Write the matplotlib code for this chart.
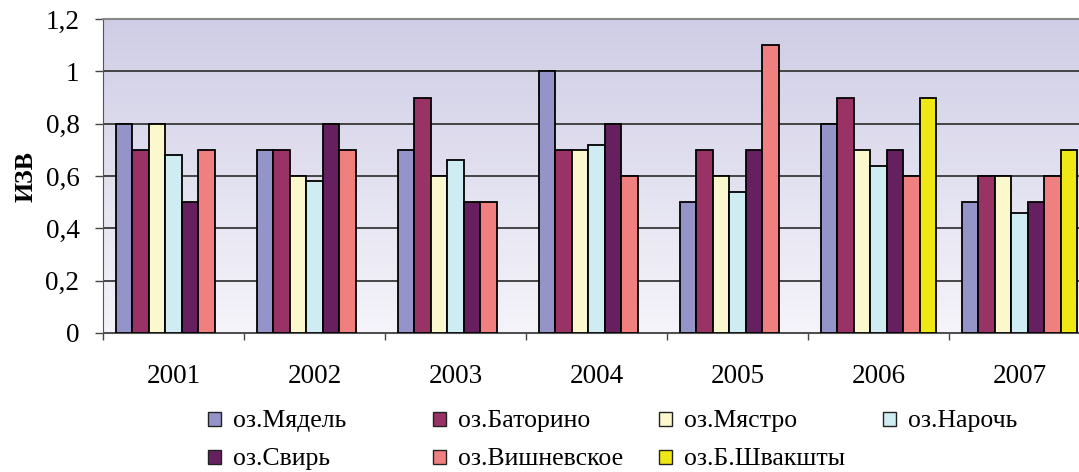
import numpy as np
import matplotlib
matplotlib.use("Agg")
import matplotlib.pyplot as plt
from matplotlib.patches import Rectangle
from matplotlib.ticker import FuncFormatter

plt.rcParams["font.family"] = ["Liberation Serif", "DejaVu Serif"]

years = ["2001", "2002", "2003", "2004", "2005", "2006", "2007"]
lakes = ["оз.Мядель", "оз.Баторино", "оз.Мястро", "оз.Нарочь",
         "оз.Свирь", "оз.Вишневское", "оз.Б.Швакшты"]
myadel = [0.8, 0.7, 0.7, 1.0, 0.5, 0.8, 0.5]
batorino = [0.7, 0.7, 0.9, 0.7, 0.7, 0.9, 0.6]
myastro = [0.8, 0.6, 0.6, 0.7, 0.6, 0.7, 0.6]
naroch = [0.68, 0.58, 0.66, 0.72, 0.54, 0.64, 0.46]
svir = [0.5, 0.8, 0.5, 0.8, 0.7, 0.7, 0.5]
vishnevskoe = [0.7, 0.7, 0.5, 0.6, 1.1, 0.6, 0.6]
shvakshty = [np.nan, np.nan, np.nan, np.nan, np.nan, 0.9, 0.7]
series = [myadel, batorino, myastro, naroch, svir, vishnevskoe, shvakshty]
colors = ["#9494C8", "#993366", "#FAF8CC", "#CFECF2", "#662060", "#F08080", "#F0E814"]

W, H = 1079, 472
fig = plt.figure(figsize=(W / 100, H / 100), dpi=100)
# plot area runs past the right edge of the picture, like in the original
ax = fig.add_axes([103 / W, (H - 333) / H, 987 / W, 314 / H])

# lavender gradient background
grad = np.linspace(0, 1, 256).reshape(-1, 1)
top = np.array([207, 205, 229]) / 255
bot = np.array([245, 244, 250]) / 255
img = top + (bot - top) * grad[:, :, None] * np.ones((1, 1, 3))
ax.imshow(img, extent=[0, 1, 0, 1], transform=ax.transAxes, aspect="auto", zorder=0)

x = np.arange(len(years))
bw = 16.5 / 141
n = len(series)
for i, (vals, c) in enumerate(zip(series, colors)):
    offs = (i - (n - 1) / 2) * bw
    ax.bar(x + offs, vals, width=bw, color=c, edgecolor="black", linewidth=1.3, zorder=3)

ax.set_xlim(-0.5, len(years) - 0.5)
ax.set_ylim(0, 1.2)
ax.set_yticks(np.arange(0, 1.21, 0.2))
ax.yaxis.set_major_formatter(FuncFormatter(lambda v, p: f"{v:g}".replace(".", ",")))
ax.yaxis.grid(True, color="#2a2a2a", linewidth=1.2, zorder=1)
ax.set_axisbelow(True)

ax.set_xticks(x)
ax.set_xticklabels(years)
ax.set_xticks(np.arange(-0.5, len(years)), minor=True)
ax.tick_params(axis="x", which="major", length=0, pad=22, labelsize=19.5)
ax.tick_params(axis="x", which="minor", length=5, width=1, color="#444444", direction="out")
ax.tick_params(axis="y", length=6, width=1, color="#444444", pad=11, labelsize=19.5)

ax.spines["right"].set_visible(False)
ax.spines["top"].set_color("#888888")
ax.spines["left"].set_color("#555555")
ax.spines["bottom"].set_color("#555555")
ax.spines["top"].set_linewidth(1.5)

ax.set_ylabel("ИЗВ", fontsize=18.5, fontweight="bold", labelpad=6)

# legend, laid out row by row as in the original
col_x = [208, 433, 659, 883]
row_y = [421, 459]
for i, (name, c) in enumerate(zip(lakes, colors)):
    r, k = divmod(i, 4)
    x0, yc = col_x[k], row_y[r]
    fig.add_artist(Rectangle((x0 / W, (H - yc - 5) / H), 13 / W, 14 / H,
                             facecolor=c, edgecolor="#222222", linewidth=1.0,
                             transform=fig.transFigure))
    fig.text((x0 + 25) / W, (H - yc) / H, name, fontsize=18.5, va="center", ha="left")

fig.savefig("out.png", dpi=100)
